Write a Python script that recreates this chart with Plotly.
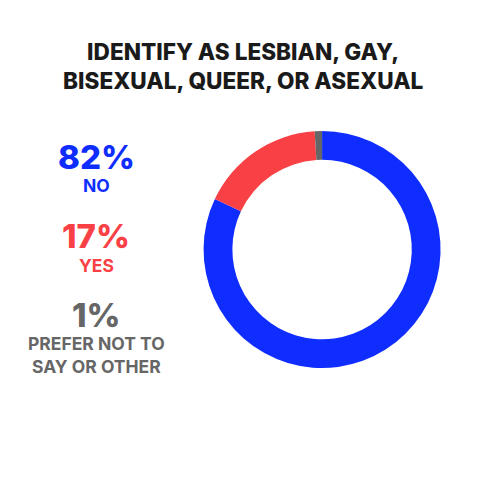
import plotly.graph_objects as go

# chart data
labels = ["No", "Yes", "Prefer not to say or other"]
values = [82, 17, 1]
colors = ["#0F2DFF", "#F94045", "#666666"]
pct_text = ["82%", "17%", "1%"]
cat_text = ["NO", "YES", "PREFER NOT TO<br>SAY OR OTHER"]
title_text = "IDENTIFY AS LESBIAN, GAY,<br>BISEXUAL, QUEER, OR ASEXUAL"

FONT = "Inter"
# page body adds ~8px margin; compensate so marks land where the reference has them
dx = -8 / 480
dy = 8 / 480

fig = go.Figure(go.Pie(
    labels=labels, values=values, sort=False, direction="clockwise",
    rotation=0, hole=0.757, marker=dict(colors=colors, line=dict(width=0)),
    textinfo="none", hoverinfo="label+percent",
    domain=dict(x=[0.424 + dx, 0.918 + dx], y=[0.2333 + dy, 0.7271 + dy]),
))

# left-hand legend blocks: big percent + category label
pct_y = [0.673, 0.508, 0.343]
cat_y = [0.6125, 0.447, 0.2594]
for i in range(len(values)):
    fig.add_annotation(x=0.2 + dx, y=pct_y[i] + dy, xref="paper", yref="paper",
                       text=pct_text[i], showarrow=False, xanchor="center", yanchor="middle",
                       font=dict(family=FONT, size=33, color=colors[i], weight=800))
    fig.add_annotation(x=0.2 + dx, y=cat_y[i] + dy, xref="paper", yref="paper",
                       text=cat_text[i], showarrow=False, xanchor="center", yanchor="middle",
                       font=dict(family=FONT, size=17.5, color=colors[i], weight=700))

fig.add_annotation(x=0.508 + dx, y=0.8625 + dy, xref="paper", yref="paper", text=title_text,
                   showarrow=False, xanchor="center", yanchor="middle",
                   font=dict(family=FONT, size=22.6, color="#1a1a1a", weight=800))

fig.update_layout(width=480, height=480, margin=dict(l=0, r=0, t=0, b=0),
                  paper_bgcolor="white", plot_bgcolor="white", showlegend=False)

fig.write_html("out.html")
